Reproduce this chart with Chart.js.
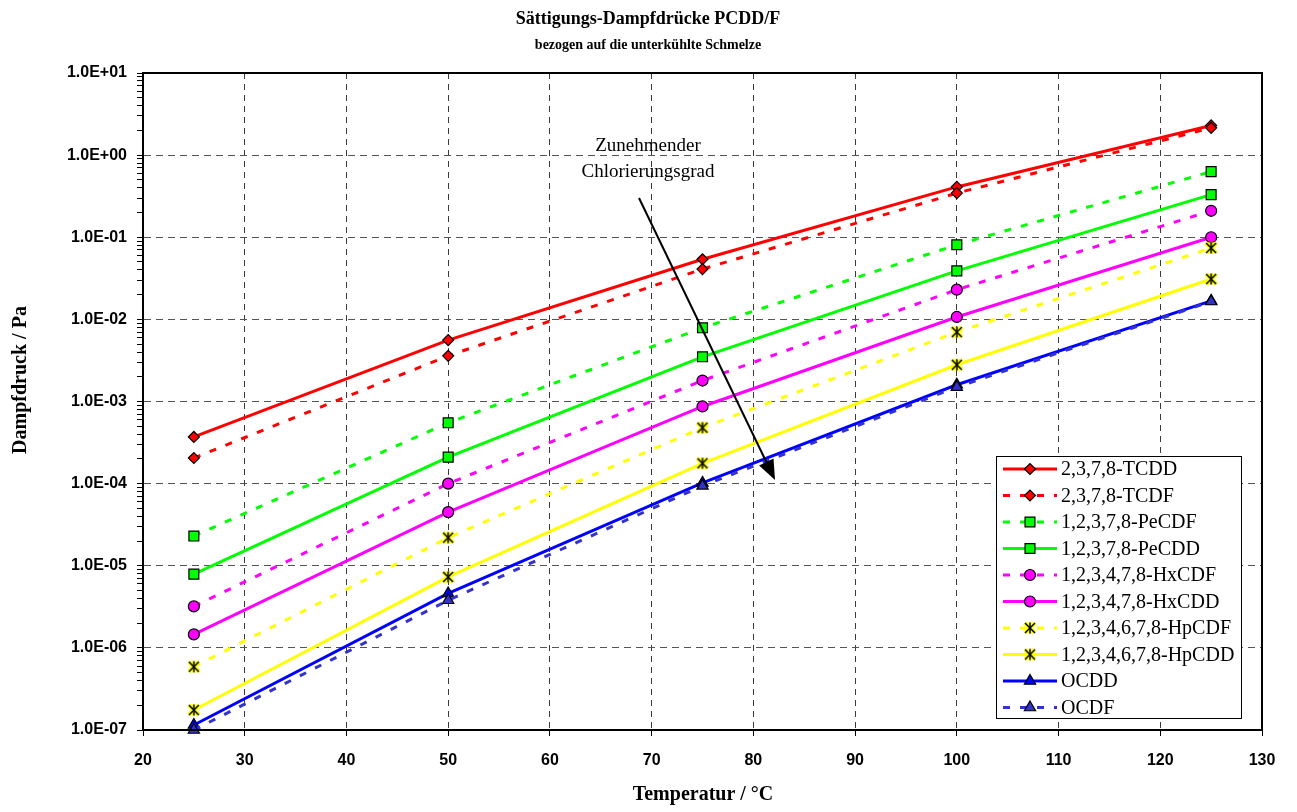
<!DOCTYPE html>
<html>
<head>
<meta charset="utf-8">
<title>Sättigungs-Dampfdrücke PCDD/F</title>
<script src="https://cdn.jsdelivr.net/npm/chart.js@4.4.1/dist/chart.umd.min.js"></script>
<style>
  html, body { margin: 0; padding: 0; background: #fff; }
  #wrap { width: 1297px; height: 812px; }
</style>
</head>
<body>
<div id="wrap"><canvas id="chart" width="1297" height="812"></canvas></div>
<script>
// ----- Data -----
const temperatures = [25, 50, 75, 100, 125]; // °C

// vapour pressures in Pa (subcooled liquid)
const tcdd  = [3.7e-4, 5.6e-3, 0.054, 0.41, 2.3];
const tcdf  = [2.05e-4, 3.6e-3, 0.041, 0.345, 2.15];
const pecdf = [2.3e-5, 5.5e-4, 7.9e-3, 0.081, 0.63];
const pecdd = [7.9e-6, 2.1e-4, 3.5e-3, 0.039, 0.33];
const hxcdf = [3.2e-6, 1.0e-4, 1.8e-3, 0.023, 0.21];
const hxcdd = [1.46e-6, 4.5e-5, 8.7e-4, 0.0107, 0.10];
const hpcdf = [5.9e-7, 2.2e-5, 4.8e-4, 7.0e-3, 0.074];
const hpcdd = [1.75e-7, 7.3e-6, 1.77e-4, 2.8e-3, 0.031];
const ocdd  = [1.15e-7, 4.6e-6, 1.02e-4, 1.6e-3, 0.0168];
const ocdf  = [1.0e-7, 3.8e-6, 9.4e-5, 1.5e-3, 0.0165];

const seriesNames = [
  "2,3,7,8-TCDD", "2,3,7,8-TCDF", "1,2,3,7,8-PeCDF", "1,2,3,7,8-PeCDD",
  "1,2,3,4,7,8-HxCDF", "1,2,3,4,7,8-HxCDD", "1,2,3,4,6,7,8-HpCDF",
  "1,2,3,4,6,7,8-HpCDD", "OCDD", "OCDF"
];

const xTicks = [20, 30, 40, 50, 60, 70, 80, 90, 100, 110, 120, 130];
const yDecades = [-7, -6, -5, -4, -3, -2, -1, 0, 1];
const yTickLabels = ["1.0E-07", "1.0E-06", "1.0E-05", "1.0E-04", "1.0E-03",
                     "1.0E-02", "1.0E-01", "1.0E+00", "1.0E+01"];

const SERIF = "'Liberation Serif', 'Times New Roman', serif";
const SANS = "'Liberation Sans', Arial, sans-serif";
const DASH = [7, 10];

// Helpers
function toPoints(vals) {
  return temperatures.map((t, i) => ({ x: t, y: vals[i] }));
}

function decadeIndex(v) {
  const e = Math.log10(v);
  const r = Math.round(e);
  return Math.abs(e - r) < 1e-6 ? yDecades.indexOf(r) : -1;
}

// asterisk marker: yellow body with black x and vertical bar
function makeStar() {
  const c = document.createElement("canvas");
  c.width = 16; c.height = 16;
  const g = c.getContext("2d");
  const m = 8, r = 5;
  const segs = [[-r, -r, r, r], [-r, r, r, -r], [0, -r - 0.5, 0, r + 0.5]];
  const stroke = (color, w) => {
    g.strokeStyle = color; g.lineWidth = w;
    segs.forEach(s => {
      g.beginPath(); g.moveTo(m + s[0], m + s[1]); g.lineTo(m + s[2], m + s[3]); g.stroke();
    });
  };
  stroke("#ffff00", 4.5);
  stroke("#000000", 1.5);
  return c;
}
const star = makeStar();

// ----- Series styles -----
const seriesValues = [tcdd, tcdf, pecdf, pecdd, hxcdf, hxcdd, hpcdf, hpcdd, ocdd, ocdf];
const styles = [
  { color: "#ff0000", fill: "#ff0000", dash: [], point: "rectRot", r: 5.5 },
  { color: "#ff0000", fill: "#ff0000", dash: DASH, point: "rectRot", r: 5.5 },
  { color: "#00ff00", fill: "#00ff00", dash: DASH, point: "rect", r: 7 },
  { color: "#00ff00", fill: "#00ff00", dash: [], point: "rect", r: 7 },
  { color: "#ff00ff", fill: "#ff00ff", dash: DASH, point: "circle", r: 5.5 },
  { color: "#ff00ff", fill: "#ff00ff", dash: [], point: "circle", r: 5.5 },
  { color: "#ffff00", fill: "#ffff00", dash: DASH, point: star, r: 6 },
  { color: "#ffff00", fill: "#ffff00", dash: [], point: star, r: 6 },
  { color: "#0000ff", fill: "#0000ff", dash: [], point: "triangle", r: 6.5 },
  { color: "#3333cc", fill: "#3333cc", dash: DASH, point: "triangle", r: 6.5 }
];

const datasets = seriesValues.map((vals, i) => ({
  label: seriesNames[i],
  data: toPoints(vals),
  borderColor: styles[i].color,
  borderWidth: 3,
  borderDash: styles[i].dash,
  pointStyle: styles[i].point,
  pointRadius: styles[i].r,
  pointBackgroundColor: styles[i].fill,
  pointBorderColor: "#000",
  pointBorderWidth: 1.2,
  tension: 0,
  fill: false,
  clip: false,
  order: seriesValues.length - i
}));

// ----- Decorations: frame, titles, arrow, legend -----
const decor = {
  id: "decor",
  afterDraw(chart) {
    const ctx = chart.ctx;
    const a = chart.chartArea;
    ctx.save();

    // plot frame
    ctx.strokeStyle = "#000";
    ctx.lineWidth = 2;
    ctx.setLineDash([]);
    ctx.strokeRect(a.left, a.top, a.right - a.left, a.bottom - a.top);

    ctx.fillStyle = "#000";
    ctx.textAlign = "center";
    ctx.textBaseline = "middle";
    ctx.font = "bold 18px " + SERIF;
    ctx.fillText("Sättigungs-Dampfdrücke PCDD/F", 648, 19);
    ctx.font = "bold 14px " + SERIF;
    ctx.fillText("bezogen auf die unterkühlte Schmelze", 648, 45);

    ctx.font = "bold 20px " + SERIF;
    ctx.fillText("Temperatur / °C", 703, 795);
    ctx.save();
    ctx.translate(21, 380);
    ctx.rotate(-Math.PI / 2);
    ctx.fillText("Dampfdruck / Pa", 0, 0);
    ctx.restore();

    // arrow: increasing degree of chlorination
    ctx.font = "19px " + SERIF;
    ctx.fillText("Zunehmender", 648, 146);
    ctx.fillText("Chlorierungsgrad", 648, 172);
    const x0 = 639, y0 = 198, x1 = 775, y1 = 480;
    const ang = Math.atan2(y1 - y0, x1 - x0);
    const hl = 20, hw = 8;
    const bx = x1 - hl * Math.cos(ang), by = y1 - hl * Math.sin(ang);
    ctx.strokeStyle = "#000";
    ctx.lineWidth = 2;
    ctx.beginPath(); ctx.moveTo(x0, y0); ctx.lineTo(bx, by); ctx.stroke();
    ctx.beginPath();
    ctx.moveTo(x1, y1);
    ctx.lineTo(bx + hw * Math.sin(ang), by - hw * Math.cos(ang));
    ctx.lineTo(bx - hw * Math.sin(ang), by + hw * Math.cos(ang));
    ctx.closePath();
    ctx.fill();

    // legend box
    const lx = 996, ly = 456, lw = 245, lh = 262;
    ctx.fillStyle = "#fff";
    ctx.fillRect(lx, ly, lw, lh);
    ctx.strokeStyle = "#000";
    ctx.lineWidth = 1;
    ctx.strokeRect(lx + 0.5, ly + 0.5, lw, lh);
    ctx.font = "20px " + SERIF;
    ctx.textAlign = "left";
    chart.data.datasets.forEach((ds, i) => {
      const y = 469 + i * 26.5;
      ctx.strokeStyle = ds.borderColor;
      ctx.lineWidth = 3;
      ctx.setLineDash(ds.borderDash);
      ctx.beginPath(); ctx.moveTo(1003, y); ctx.lineTo(1057, y); ctx.stroke();
      ctx.setLineDash([]);
      ctx.fillStyle = ds.pointBackgroundColor;
      ctx.strokeStyle = "#000";
      ctx.lineWidth = 1.2;
      Chart.helpers.drawPoint(ctx, {
        pointStyle: ds.pointStyle, radius: ds.pointRadius, rotation: 0, borderWidth: 1.2
      }, 1030, y);
      ctx.fillStyle = "#000";
      ctx.fillText(ds.label, 1061, y + 1);
    });
    ctx.restore();
  }
};

// ----- Chart -----
const chart = new Chart(document.getElementById("chart"), {
  type: "line",
  data: { datasets },
  options: {
    responsive: false,
    animation: false,
    layout: { padding: { top: 73, right: 35, left: 0, bottom: 0 } },
    plugins: { legend: { display: false }, tooltip: { enabled: false } },
    scales: {
      x: {
        type: "linear",
        min: xTicks[0],
        max: xTicks[xTicks.length - 1],
        afterBuildTicks: axis => { axis.ticks = xTicks.map(v => ({ value: v })); },
        afterFit: s => { s.height = 82; },
        ticks: {
          color: "#000",
          font: { family: SANS, size: 16, weight: "bold" },
          padding: 15,
          maxRotation: 0
        },
        grid: { color: "#3a3a3a", lineWidth: 1, tickColor: "#000", tickLength: 6 },
        border: { display: true, color: "#000", width: 2, dash: [6, 5] }
      },
      y: {
        type: "logarithmic",
        min: 1e-7,
        max: 10,
        afterBuildTicks: axis => {
          const ticks = [];
          yDecades.forEach((e, i) => {
            const base = Math.pow(10, e);
            ticks.push({ value: base, major: true });
            if (i < yDecades.length - 1) {
              for (let m = 2; m <= 9; m++) ticks.push({ value: m * base });
            }
          });
          axis.ticks = ticks;
        },
        afterFit: s => { s.width = 143; },
        ticks: {
          autoSkip: false,
          color: "#000",
          font: { family: SANS, size: 16, weight: "bold" },
          padding: 10,
          callback: v => {
            const k = decadeIndex(v);
            return k >= 0 ? yTickLabels[k] : "";
          }
        },
        grid: {
          color: c => (c.tick && decadeIndex(c.tick.value) >= 0) ? "#555" : "rgba(0,0,0,0)",
          lineWidth: 1,
          tickColor: "#000",
          tickWidth: 1,
          tickLength: 6
        },
        border: { display: true, color: "#000", width: 2, dash: [7, 5] }
      }
    }
  },
  plugins: [decor]
});
</script>
</body>
</html>
